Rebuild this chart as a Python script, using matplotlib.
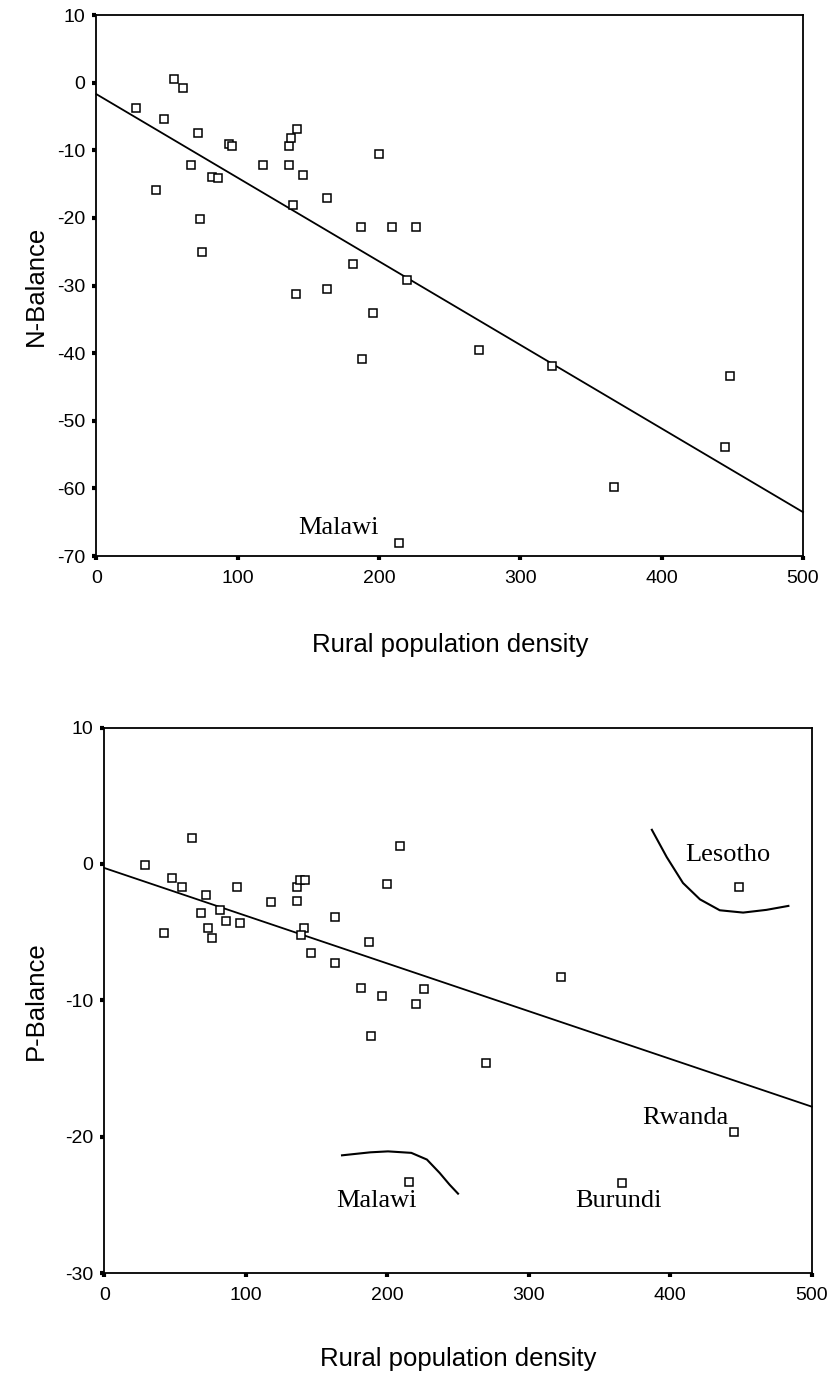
import matplotlib
matplotlib.use("Agg")
import matplotlib.pyplot as plt

# N-balance panel (rural population density vs N balance)
n_density = [28, 48, 55, 61, 42, 72, 67, 94, 96, 81.5, 86, 73, 75, 118, 136, 138,
             142, 136, 146, 139, 163, 200, 187, 209, 226, 181.5, 220, 141, 163, 196,
             188, 214, 270.5, 322.6, 448, 445, 366]
n_balance = [-3.7, -5.4, 0.5, -0.8, -15.9, -7.5, -12.2, -9.1, -9.4, -13.9, -14.1, -20.2,
             -25.0, -12.2, -9.4, -8.1, -6.8, -12.2, -13.6, -18.1, -17.0, -10.6, -21.4,
             -21.3, -21.4, -26.8, -29.2, -31.2, -30.5, -34.0, -40.8, -68.0, -39.6, -41.9,
             -43.3, -53.8, -59.8]
n_fit_x = [0, 500]
n_fit_y = [-1.7, -63.5]

# P-balance panel
p_density = [29, 62, 48, 55, 42, 72, 68, 82, 86, 96, 94, 73, 76, 118, 136, 136, 138,
             142, 141, 139, 146, 163, 163, 209, 200, 187, 181.6, 196, 220, 226, 188.5,
             322.6, 448.6, 270, 215, 445, 366]
p_balance = [-0.1, 1.9, -1.0, -1.7, -5.1, -2.3, -3.6, -3.4, -4.2, -4.3, -1.7, -4.7, -5.4,
             -2.8, -1.7, -2.7, -1.15, -1.2, -4.7, -5.25, -6.5, -3.9, -7.25, 1.3, -1.5,
             -5.7, -9.1, -9.7, -10.3, -9.2, -12.6, -8.3, -1.7, -14.6, -23.3, -19.65, -23.4]
p_fit_x = [0, 500]
p_fit_y = [-0.3, -17.8]

# hand drawn curves round the outliers
lesotho_x = [387, 397.5, 409, 421, 435, 451.5, 468, 483.5]
lesotho_y = [2.5, 0.5, -1.4, -2.6, -3.4, -3.57, -3.37, -3.08]
malawi_x = [168, 188, 200.5, 217, 228, 237, 244, 250]
malawi_y = [-21.37, -21.15, -21.08, -21.19, -21.68, -22.66, -23.52, -24.18]

x_ticks = [0, 100, 200, 300, 400, 500]
n_ticks = [10, 0, -10, -20, -30, -40, -50, -60, -70]
p_ticks = [10, 0, -10, -20, -30]

sans = "Liberation Sans"
serif = "Liberation Serif"

fig = plt.figure(figsize=(8.34, 13.74), dpi=100)
ax1 = fig.add_axes([0.1157, 0.5953, 0.8471, 0.3937])
ax2 = fig.add_axes([0.1251, 0.0735, 0.8482, 0.3970])


def style(ax, yticks, ylabel, ylim):
    ax.set_xlim(0, 500)
    ax.set_ylim(*ylim)
    ax.set_xticks(x_ticks)
    ax.set_yticks(yticks)
    ax.set_xticklabels([str(t) for t in x_ticks], fontfamily=sans, fontsize=14)
    ax.set_yticklabels([str(t) for t in yticks], fontfamily=sans, fontsize=14)
    ax.tick_params(direction="out", length=3, width=3, pad=5)
    ax.tick_params(axis="x", pad=7)
    for sp in ax.spines.values():
        sp.set_linewidth(1.3)
    ax.set_xlabel("Rural population density", fontfamily=sans, fontsize=18.5)
    ax.set_ylabel(ylabel, fontfamily=sans, fontsize=18.5)


ax1.plot(n_fit_x, n_fit_y, color="black", lw=1.3, clip_on=False)
ax1.plot(n_density, n_balance, "s", ms=5.5, mfc="white", mec="black", mew=1.1,
         linestyle="none")
ax1.text(142.6, -65.9, "Malawi", fontfamily=serif, fontsize=19, va="center", ha="left")
style(ax1, n_ticks, "N-Balance", (-70, 10))
ax1.yaxis.set_label_coords(-0.069, 0.5)
ax1.xaxis.set_label_coords(0.5, -0.142)

ax2.plot(p_fit_x, p_fit_y, color="black", lw=1.3, clip_on=False)
ax2.plot(lesotho_x, lesotho_y, color="black", lw=1.5)
ax2.plot(malawi_x, malawi_y, color="black", lw=1.5)
ax2.plot(p_density, p_balance, "s", ms=5.5, mfc="white", mec="black", mew=1.1,
         linestyle="none")
ax2.text(410.4, 0.66, "Lesotho", fontfamily=serif, fontsize=19, va="center", ha="left")
ax2.text(380.2, -18.6, "Rwanda", fontfamily=serif, fontsize=19, va="center", ha="left")
ax2.text(333.1, -24.7, "Burundi", fontfamily=serif, fontsize=19, va="center", ha="left")
ax2.text(164.2, -24.7, "Malawi", fontfamily=serif, fontsize=19, va="center", ha="left")
style(ax2, p_ticks, "P-Balance", (-30, 10))
ax2.yaxis.set_label_coords(-0.08, 0.5)
ax2.xaxis.set_label_coords(0.5, -0.136)

fig.savefig("out.png", dpi=100)
